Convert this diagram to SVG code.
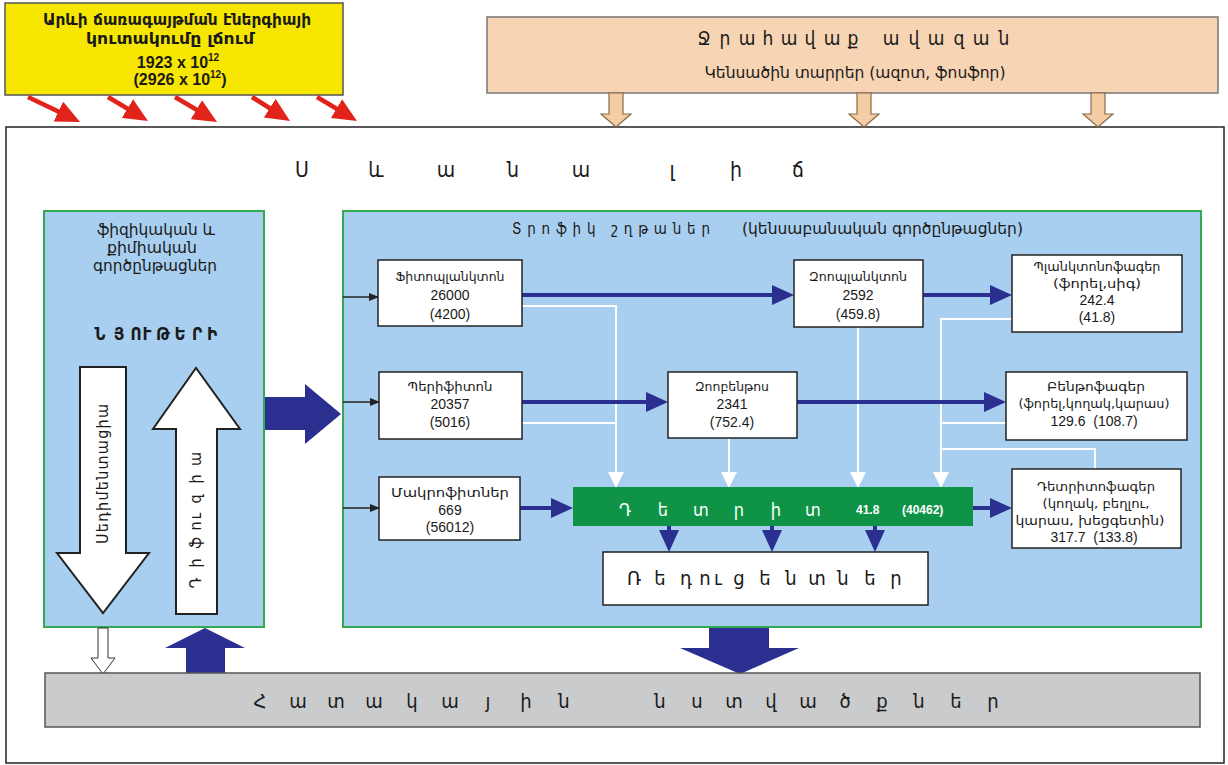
<svg xmlns="http://www.w3.org/2000/svg" width="1228" height="765" viewBox="0 0 1228 765">
<defs>
<style>
text{font-family:'Liberation Sans','DejaVu Sans Condensed','DejaVu Sans',sans-serif;fill:#1a1a1a}
.arm{font-family:'DejaVu Sans Condensed','DejaVu Sans',sans-serif}
.node{fill:#fff;stroke:#222;stroke-width:1.5}
.lbl{font-size:13px;text-anchor:middle}
.num{font-size:14px;text-anchor:middle;white-space:pre}
.navy{stroke:#2b3090;stroke-width:4;fill:none}
.wl{stroke:#fff;stroke-width:2;fill:none}
.blk{stroke:#222;stroke-width:1.3;fill:none}
.red{stroke:#e2231a;stroke-width:4.5;fill:none}
.gbox{fill:#a8cff0;stroke:#35a853;stroke-width:2}
.peach{fill:#f3cca4;stroke:#8c6b4a;stroke-width:1.2}
.navyfill{fill:#2b3090}
</style>
<marker id="mNavy" markerUnits="userSpaceOnUse" markerWidth="22" markerHeight="20" refX="10" refY="10" orient="auto"><path d="M0,0 L22,10 L0,20 z" fill="#2b3090"/></marker>
<marker id="mWhite" markerUnits="userSpaceOnUse" markerWidth="16" markerHeight="16" refX="15" refY="8" orient="auto"><path d="M0,0 L16,8 L0,16 z" fill="#fff"/></marker>
<marker id="mBlack" markerUnits="userSpaceOnUse" markerWidth="10" markerHeight="8" refX="9" refY="4" orient="auto"><path d="M0,0 L10,4 L0,8 z" fill="#222"/></marker>
<marker id="mRed" markerUnits="userSpaceOnUse" markerWidth="24" markerHeight="22" refX="10" refY="11" orient="auto"><path d="M0,0 L24,11 L0,22 z" fill="#e2231a"/></marker>
</defs>
<rect width="1228" height="765" fill="#fff"/>

<!-- outer frame -->
<g id="frame"><rect x="6" y="127" width="1218" height="636" fill="none" stroke="#222" stroke-width="1.5"/></g>

<!-- sun energy box -->
<g id="sun">
<rect x="5" y="3" width="338" height="92" fill="#f7e600" stroke="#555" stroke-width="1.5"/>
<text class="arm" x="177" y="25" font-size="16" font-weight="bold" text-anchor="middle" textLength="268" lengthAdjust="spacingAndGlyphs">Արևի ճառագայթման էներգիայի</text>
<text class="arm" x="170" y="44" font-size="16" font-weight="bold" text-anchor="middle" textLength="168" lengthAdjust="spacingAndGlyphs">կուտակումը լճում</text>
<text x="178" y="68" font-size="16" font-weight="bold" text-anchor="middle">1923 x 10<tspan dy="-7" font-size="10">12</tspan></text>
<text x="180" y="85" font-size="16" font-weight="bold" text-anchor="middle">(2926 x 10<tspan dy="-7" font-size="10">12</tspan><tspan dy="7">)</tspan></text>
</g>

<!-- catchment box -->
<g id="catchment">
<rect x="487" y="17" width="731" height="76" fill="#f7d4b3" stroke="#777" stroke-width="1.5"/>
<text class="arm" y="45" font-size="19" text-anchor="middle" x="704 725 747 768 789 810 832 853 872 891 914 936 959 981 1004">Ջրահավաք ավազան</text>
<text class="arm" x="855" y="78" font-size="15" text-anchor="middle" textLength="301" lengthAdjust="spacingAndGlyphs">Կենսածին տարրեր (ազոտ, ֆոսֆոր)</text>
</g>

<!-- lake title -->
<g id="lake-title">
<text class="arm" y="177" font-size="21" text-anchor="middle" x="302 376 446 513 581 630 672 736 798">Սևանա լիճ</text>
</g>

<!-- physical & chemical processes box -->
<g id="physchem">
<rect class="gbox" x="44" y="211" width="220" height="416"/>
<text class="arm" x="156" y="235" font-size="15" text-anchor="middle" textLength="118" lengthAdjust="spacingAndGlyphs">ֆիզիկական և</text>
<text class="arm" x="152" y="253" font-size="15" text-anchor="middle" textLength="90" lengthAdjust="spacingAndGlyphs">քիմիական</text>
<text class="arm" x="155" y="271" font-size="15" text-anchor="middle" textLength="124" lengthAdjust="spacingAndGlyphs">գործընթացներ</text>
<text class="arm" y="340" font-size="17" font-weight="bold" text-anchor="middle" x="100 119 136 147 163 180 197 212">ՆՅՈՒԹԵՐԻ</text>
<path d="M80,367 L126,367 L126,553 L149,553 L103,613 L57,553 L80,553 Z" fill="#fff" stroke="#222" stroke-width="2"/>
<path d="M176,614 L176,429 L153,429 L196,368 L240,429 L217,429 L217,614 Z" fill="#fff" stroke="#222" stroke-width="2"/>
<text class="arm" font-size="16" text-anchor="middle" transform="translate(103 474) rotate(-90)" x="0" y="5" textLength="140" lengthAdjust="spacing">Սեդիմենտացիա</text>
<text class="arm" font-size="16" text-anchor="middle" transform="translate(196 521) rotate(-90)" y="5" x="-62 -42 -22 -5 5 22 42 62">Դիֆուզիա</text>
</g>

<!-- trophic chains box -->
<g id="trophic">
<rect class="gbox" x="343" y="211" width="858" height="416"/>
<text class="arm" x="512" y="234" font-size="15" textLength="198" lengthAdjust="spacing">Տրոֆիկ շղթաներ</text>
<text class="arm" x="742" y="234" font-size="15" textLength="281" lengthAdjust="spacingAndGlyphs">(կենսաբանական գործընթացներ)</text>
</g>

<!-- connectors -->
<g id="connectors">
<line class="red" x1="28" y1="97" x2="67.4" y2="115.9" marker-end="url(#mRed)"/>
<line class="red" x1="108" y1="97" x2="136" y2="113.8" marker-end="url(#mRed)"/>
<line class="red" x1="175" y1="97" x2="205" y2="114.8" marker-end="url(#mRed)"/>
<line class="red" x1="252" y1="97" x2="278.2" y2="113.5" marker-end="url(#mRed)"/>
<line class="red" x1="317" y1="97" x2="345" y2="113.8" marker-end="url(#mRed)"/>

<path class="peach" d="M609,93 L623,93 L623,114 L631,114 L616,127 L601,114 L609,114 Z"/>
<path class="peach" d="M857,93 L871,93 L871,114 L879,114 L864,127 L849,114 L857,114 Z"/>
<path class="peach" d="M1091,93 L1105,93 L1105,114 L1113,114 L1098,127 L1083,114 L1091,114 Z"/>

<path class="navyfill" d="M265,397 L305,397 L305,384 L341,414 L305,444 L305,430 L265,430 Z"/>

<path class="wl" d="M522,306 H616 V487" marker-end="url(#mWhite)"/>
<path class="wl" d="M522,423 H616"/>
<path class="wl" d="M729,438 V487" marker-end="url(#mWhite)"/>
<path class="wl" d="M858,327 V487" marker-end="url(#mWhite)"/>
<path class="wl" d="M1012,319 H941 V487" marker-end="url(#mWhite)"/>
<path class="wl" d="M1006,423 H941"/>
<path class="wl" d="M1095,469 V449 H941"/>

<line class="blk" x1="343" y1="297" x2="378" y2="297" marker-end="url(#mBlack)"/>
<line class="blk" x1="343" y1="402" x2="379" y2="402" marker-end="url(#mBlack)"/>
<line class="blk" x1="343" y1="508" x2="379" y2="508" marker-end="url(#mBlack)"/>

<line class="navy" x1="522" y1="295" x2="782" y2="295" marker-end="url(#mNavy)"/>
<line class="navy" x1="923" y1="295" x2="1000" y2="295" marker-end="url(#mNavy)"/>
<line class="navy" x1="522" y1="402" x2="656" y2="402" marker-end="url(#mNavy)"/>
<line class="navy" x1="797" y1="402" x2="994" y2="402" marker-end="url(#mNavy)"/>
<line class="navy" x1="520" y1="508" x2="561" y2="508" marker-end="url(#mNavy)"/>
<line class="navy" x1="973" y1="508" x2="1000" y2="508" marker-end="url(#mNavy)"/>
<line class="navy" x1="669" y1="526" x2="669" y2="540" marker-end="url(#mNavy)"/>
<line class="navy" x1="772" y1="526" x2="772" y2="540" marker-end="url(#mNavy)"/>
<line class="navy" x1="875" y1="526" x2="875" y2="540" marker-end="url(#mNavy)"/>

<path d="M98,628 L108,628 L108,658 L115,658 L103,674 L91,658 L98,658 Z" fill="#fff" stroke="#333" stroke-width="1"/>
<path class="navyfill" d="M186,673 L186,648 L165,648 L205,628 L245,648 L225,648 L225,673 Z"/>
<path class="navyfill" d="M709,628 L769,628 L769,648 L799,648 L740,674 L680,648 L709,648 Z"/>
</g>

<!-- nodes -->
<g id="phytoplankton">
<rect class="node" x="378" y="260" width="144" height="66"/>
<text class="arm lbl" x="450" y="281" textLength="109" lengthAdjust="spacingAndGlyphs">Ֆիտոպլանկտոն</text>
<text class="num" x="450" y="300">26000</text>
<text class="num" x="450" y="319">(4200)</text>
</g>
<g id="zooplankton">
<rect class="node" x="794" y="260" width="129" height="67"/>
<text class="arm lbl" x="858" y="281" textLength="98" lengthAdjust="spacingAndGlyphs">Զոոպլանկտոն</text>
<text class="num" x="858" y="300">2592</text>
<text class="num" x="858" y="319">(459.8)</text>
</g>
<g id="planktonophages">
<rect class="node" x="1012" y="255" width="170" height="77"/>
<text class="arm lbl" x="1097" y="271" textLength="127" lengthAdjust="spacingAndGlyphs">Պլանկտոնոֆագեր</text>
<text class="arm lbl" x="1097" y="288" textLength="88" lengthAdjust="spacingAndGlyphs">(ֆորել,սիգ)</text>
<text class="num" x="1097" y="305">242.4</text>
<text class="num" x="1097" y="322">(41.8)</text>
</g>
<g id="periphyton">
<rect class="node" x="379" y="372" width="143" height="67"/>
<text class="arm lbl" x="450" y="391" textLength="85" lengthAdjust="spacingAndGlyphs">Պերիֆիտոն</text>
<text class="num" x="450" y="409">20357</text>
<text class="num" x="450" y="427">(5016)</text>
</g>
<g id="zoobenthos">
<rect class="node" x="668" y="372" width="129" height="66" stroke-width="2.5"/>
<text class="arm lbl" x="732" y="391" textLength="74" lengthAdjust="spacingAndGlyphs">Զոոբենթոս</text>
<text class="num" x="732" y="409">2341</text>
<text class="num" x="732" y="427">(752.4)</text>
</g>
<g id="benthophages">
<rect class="node" x="1006" y="372" width="181" height="68"/>
<text class="arm lbl" x="1096" y="391" textLength="98" lengthAdjust="spacingAndGlyphs">Բենթոֆագեր</text>
<text class="arm lbl" x="1094" y="408" textLength="151" lengthAdjust="spacingAndGlyphs">(ֆորել,կողակ,կարաս)</text>
<text class="num" x="1094" y="426">129.6  (108.7)</text>
</g>
<g id="macrophytes">
<rect class="node" x="379" y="477" width="141" height="63"/>
<text class="arm lbl" x="450" y="497" textLength="118" lengthAdjust="spacingAndGlyphs">Մակրոֆիտներ</text>
<text class="num" x="450" y="515">669</text>
<text class="num" x="450" y="532">(56012)</text>
</g>
<g id="detritus">
<rect x="573" y="487" width="400" height="39" fill="#0f9447"/>
<text class="arm" y="516" font-size="18" text-anchor="middle" style="fill:#fff" x="625 663 701 739 776 813">Դետրիտ</text>
<text x="856" y="514" font-size="12" font-weight="bold" style="fill:#fff">41.8</text>
<text x="902" y="514" font-size="12" font-weight="bold" style="fill:#fff">(40462)</text>
</g>
<g id="detritophages">
<rect class="node" x="1012" y="469" width="169" height="79"/>
<text class="arm lbl" x="1096" y="491" textLength="118" lengthAdjust="spacingAndGlyphs">Դետրիտոֆագեր</text>
<text class="arm lbl" x="1096" y="508" textLength="107" lengthAdjust="spacingAndGlyphs">(կողակ, բեղլու,</text>
<text class="arm lbl" x="1090" y="525" textLength="149" lengthAdjust="spacingAndGlyphs">կարաս, խեցգետին)</text>
<text class="num" x="1094" y="542">317.7  (133.8)</text>
</g>
<g id="reducents">
<rect class="node" x="603" y="552" width="325" height="53" stroke-width="1.8"/>
<text class="arm" y="585" font-size="20" text-anchor="middle" x="634 660 686 705 718 739 765 791 817 843 870 896">Ռեդուցենտներ</text>
</g>
<g id="sediments">
<rect x="45" y="673" width="1155" height="54" fill="#c9cbcd" stroke="#555" stroke-width="1.5"/>
<text class="arm" y="708" font-size="20" text-anchor="middle" x="260 298 336 374 412 450 488 526 564 610 660 697 734 771 808 845 882 919 956 993">Հատակային նստվածքներ</text>
</g>
</svg>
